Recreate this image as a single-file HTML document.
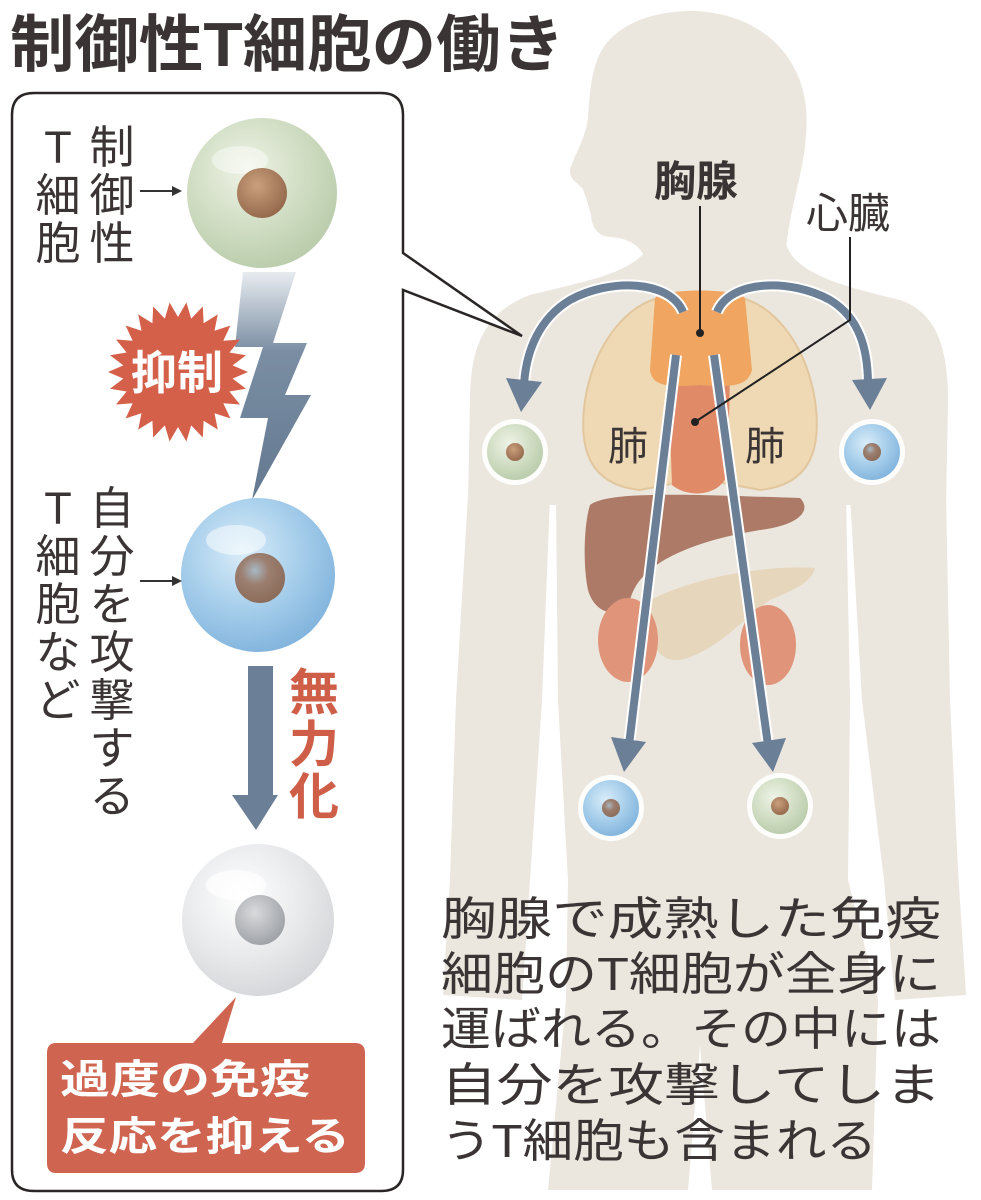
<!DOCTYPE html>
<html><head><meta charset="utf-8"><style>
html,body{margin:0;padding:0;background:#fff;}
svg{display:block;}
text{font-family:"Liberation Sans","Noto Sans CJK JP",sans-serif;fill:#3a3434;}
</style></head><body>
<svg width="981" height="1200" viewBox="0 0 981 1200" xmlns="http://www.w3.org/2000/svg">
<defs>
<radialGradient id="gG" cx="40%" cy="35%" r="70%"><stop offset="0" stop-color="#eef3e6"/><stop offset="0.5" stop-color="#d3dfc6"/><stop offset="1" stop-color="#b8cba9"/></radialGradient>
<radialGradient id="gB" cx="40%" cy="35%" r="70%"><stop offset="0" stop-color="#d9ecf8"/><stop offset="0.5" stop-color="#a9d0ec"/><stop offset="1" stop-color="#7fb2dc"/></radialGradient>
<radialGradient id="gW" cx="40%" cy="35%" r="70%"><stop offset="0" stop-color="#ffffff"/><stop offset="0.55" stop-color="#e9eaec"/><stop offset="1" stop-color="#d3d5d8"/></radialGradient>
<radialGradient id="nB" cx="40%" cy="35%" r="70%"><stop offset="0" stop-color="#c9a07c"/><stop offset="1" stop-color="#93664a"/></radialGradient>
<radialGradient id="nBl" cx="40%" cy="35%" r="70%"><stop offset="0" stop-color="#a8b8c4"/><stop offset="0.4" stop-color="#9c7f70"/><stop offset="1" stop-color="#8a6a58"/></radialGradient>
<radialGradient id="nG" cx="40%" cy="35%" r="70%"><stop offset="0" stop-color="#d8dadc"/><stop offset="1" stop-color="#9c9fa4"/></radialGradient>
<linearGradient id="bolt" x1="0" y1="0" x2="0" y2="1"><stop offset="0" stop-color="#e8ecf0"/><stop offset="0.35" stop-color="#7a8da3"/><stop offset="1" stop-color="#637990"/></linearGradient>
</defs>

<g fill="#ebe6de">
<path d="M645,258 C640,245 628,238 610,237 C598,236 592,228 591,215 C588,205 586,195 582,188 C576,182 569,178 570,170 C573,158 585,140 588,118 C590,92 591,68 603,48 C622,20 660,11 692,11 C752,12 800,48 806,108 C810,160 790,200 786,250 Z"/>
<path d="M648,248 L786,244 C795,275 850,288 900,300 C935,312 948,345 948,400 L946,505 L468,505 L470,400 C470,340 490,310 530,295 C580,282 630,275 648,248 Z"/>
<path d="M468,495 L550,495 L542,700 L530,880 L522,1000 L443,995 L450,880 L456,700 Z"/>
<path d="M850,495 L946,495 L950,700 L958,870 L966,995 L895,1000 L884,880 L862,700 Z"/>
<path d="M556,495 L846,495 L850,700 L848,880 L878,1000 L872,1190 L712,1190 L700,1045 L688,1190 L548,1190 L566,1000 L568,880 L558,700 Z"/>
</g>

<path d="M660,298 C630,303 595,340 585,400 C578,450 590,485 640,490 L690,480 L690,320 Z" fill="#efd8b4" stroke="#e2c79e" stroke-width="2"/>
<path d="M740,298 C770,303 805,340 815,400 C822,450 810,485 760,490 L708,480 L708,320 Z" fill="#efd8b4" stroke="#e2c79e" stroke-width="2"/>
<path d="M668,370 L730,370 L728,470 C725,495 690,500 672,485 Z" fill="#e08a68"/>
<path d="M655,298 C665,288 735,288 745,298 L752,370 C748,385 735,388 700,385 C665,388 652,385 650,370 Z" fill="#f0a660"/>
<path d="M590,505 C610,490 700,495 800,498 C812,510 800,525 760,530 C700,540 640,560 630,600 C620,620 595,615 588,590 C582,560 585,520 590,505 Z" fill="#ac7a66"/>
<path d="M650,600 C700,575 770,565 815,568 C812,580 800,588 770,600 C740,620 720,650 680,660 C655,662 648,640 650,600 Z" fill="#e6d6bc"/>
<ellipse cx="628" cy="640" rx="30" ry="42" fill="#e0957a"/>
<ellipse cx="768" cy="645" rx="28" ry="40" fill="#e0957a"/>
<text x="628" y="460" font-size="40" text-anchor="middle">肺</text>
<text x="765" y="460" font-size="40" text-anchor="middle">肺</text>

<g fill="none">
<path d="M683,312 C670,280 610,278 570,300 C540,318 526,350 524,385" stroke="#fff" stroke-width="12"/>
<path d="M683,312 C670,280 610,278 570,300 C540,318 526,350 524,385" stroke="#6b7f96" stroke-width="8"/>
<path d="M717,312 C730,280 790,278 830,300 C860,318 868,350 868,385" stroke="#fff" stroke-width="12"/>
<path d="M717,312 C730,280 790,278 830,300 C860,318 868,350 868,385" stroke="#6b7f96" stroke-width="8"/>
<path d="M676,355 L629,745" stroke="#fff" stroke-width="12"/>
<path d="M676,355 L629,745" stroke="#6b7f96" stroke-width="8"/>
<path d="M714,355 L768,745" stroke="#fff" stroke-width="12"/>
<path d="M714,355 L768,745" stroke="#6b7f96" stroke-width="8"/>
</g>
<g fill="#6b7f96">
<path d="M506,378 L542,382 L521,412 Z"/>
<path d="M852,380 L887,378 L870,410 Z"/>
<path d="M611,737 L646,742 L624,772 Z"/>
<path d="M752,743 L786,738 L773,772 Z"/>
</g>

<line x1="700" y1="206" x2="700" y2="333" stroke="#222" stroke-width="2"/>
<circle cx="700" cy="333" r="4" fill="#222"/>
<polyline points="850,237 850,320 695,422" fill="none" stroke="#222" stroke-width="2"/>
<circle cx="695" cy="422" r="4" fill="#222"/>
<text x="696" y="196" font-size="42" font-weight="bold" text-anchor="middle">胸腺</text>
<text x="848" y="228" font-size="42" text-anchor="middle">心臓</text>

<g>
<circle cx="515" cy="452" r="33" fill="#fff" opacity="0.9"/><circle cx="515" cy="452" r="28" fill="url(#gG)"/><circle cx="515" cy="452" r="9" fill="url(#nB)"/>
<circle cx="872" cy="452" r="33" fill="#fff" opacity="0.9"/><circle cx="872" cy="452" r="28" fill="url(#gB)"/><circle cx="872" cy="452" r="9" fill="url(#nBl)"/>
<circle cx="611" cy="808" r="33" fill="#fff" opacity="0.9"/><circle cx="611" cy="808" r="28" fill="url(#gB)"/><circle cx="611" cy="808" r="9" fill="url(#nBl)"/>
<circle cx="780" cy="806" r="33" fill="#fff" opacity="0.9"/><circle cx="780" cy="806" r="28" fill="url(#gG)"/><circle cx="780" cy="806" r="9" fill="url(#nB)"/>
</g>

<g font-size="46">
<text x="441" y="935" textLength="500" lengthAdjust="spacingAndGlyphs">胸腺で成熟した免疫</text>
<text x="441" y="990" textLength="500" lengthAdjust="spacingAndGlyphs">細胞のT細胞が全身に</text>
<text x="441" y="1045" textLength="500" lengthAdjust="spacingAndGlyphs">運ばれる。その中には</text>
<text x="441" y="1101" textLength="500" lengthAdjust="spacingAndGlyphs">自分を攻撃してしま</text>
<text x="441" y="1157" textLength="436" lengthAdjust="spacingAndGlyphs">うT細胞も含まれる</text>
</g>

<text x="10" y="66" font-size="62" font-weight="bold" textLength="555" lengthAdjust="spacingAndGlyphs" fill="#3d3535">制御性T細胞の働き</text>

<path d="M34,93 L381,93 Q403,93 403,115 L403,253 L522,336 L403,290 L403,1170 Q403,1191 381,1191 L34,1191 Q12,1191 12,1170 L12,115 Q12,93 34,93 Z" fill="#fff" stroke="#2a2626" stroke-width="2.5"/>

<circle cx="262" cy="193" r="75" fill="url(#gG)"/>
<ellipse cx="240" cy="160" rx="28" ry="14" fill="#fff" opacity="0.45"/>
<circle cx="262" cy="193" r="25" fill="url(#nB)"/>
<polygon points="243,272 296,272 273,343 307,343 285,395 311,395 252,500 268,418 240,418 263,347 235,347" fill="url(#bolt)"/>
<circle cx="258" cy="575" r="77" fill="url(#gB)"/>
<ellipse cx="236" cy="540" rx="30" ry="15" fill="#fff" opacity="0.5"/>
<circle cx="260" cy="578" r="25" fill="url(#nBl)"/>
<circle cx="258" cy="920" r="76" fill="url(#gW)"/>
<ellipse cx="236" cy="885" rx="30" ry="15" fill="#fff" opacity="0.7"/>
<circle cx="260" cy="920" r="25" fill="url(#nG)"/>

<polygon fill="#d4604a" points="248,372 232.6,378.6 246,388.8 229.4,391.5 240,404.5 223.3,403.2 230.4,418.4 214.5,413.2 217.8,429.6 203.6,420.7 202.8,437.5 191.2,425.4 186.4,441.5 178,427 169.6,441.5 164.8,425.4 153.2,437.5 152.4,420.7 138.2,429.6 141.5,413.2 125.6,418.4 132.7,403.2 116,404.5 126.6,391.5 110,388.8 123.4,378.6 108,372 123.4,365.4 110,355.2 126.6,352.5 116,339.5 132.7,340.8 125.6,325.6 141.5,330.8 138.2,314.4 152.4,323.3 153.2,306.5 164.8,318.6 169.6,302.5 178,317 186.4,302.5 191.2,318.6 202.8,306.5 203.6,323.3 217.8,314.4 214.5,330.8 230.4,325.6 223.3,340.8 240,339.5 229.4,352.5 246,355.2 232.6,365.4"/>
<text x="177" y="389" font-size="46" font-weight="bold" text-anchor="middle" style="fill:#fff">抑制</text>

<rect x="248" y="666" width="25" height="130" fill="#6b7f96"/>
<polygon points="232,795 278,795 256,830" fill="#6b7f96"/>
<g font-size="50" font-weight="bold" text-anchor="middle">
<text x="314" y="710" style="fill:#cf5e48">無</text>
<text x="314" y="762" style="fill:#cf5e48">力</text>
<text x="314" y="814" style="fill:#cf5e48">化</text>
</g>

<g font-size="45" text-anchor="middle">
<text x="58" y="163">T</text><text x="58" y="211">細</text><text x="58" y="259">胞</text>
<text x="112" y="163">制</text><text x="112" y="211">御</text><text x="112" y="259">性</text>
<text x="58" y="524">T</text><text x="58" y="572">細</text><text x="58" y="620">胞</text><text x="58" y="668">な</text><text x="58" y="716">ど</text>
<text x="112" y="524">自</text><text x="112" y="572">分</text><text x="112" y="620">を</text><text x="112" y="668">攻</text><text x="112" y="716">撃</text><text x="112" y="764">す</text><text x="112" y="812">る</text>
</g>
<line x1="140" y1="191" x2="174" y2="191" stroke="#333" stroke-width="2"/>
<polygon points="182,191 172,186 172,196" fill="#333"/>
<line x1="140" y1="581" x2="174" y2="581" stroke="#333" stroke-width="2"/>
<polygon points="182,581 172,576 172,586" fill="#333"/>

<path d="M56,1043 L193,1043 L236,997 L222,1043 L355,1043 Q365,1043 365,1053 L365,1163 Q365,1173 355,1173 L56,1173 Q47,1173 47,1163 L47,1053 Q47,1043 56,1043 Z" fill="#cf6450"/>
<text x="60" y="1093" font-size="40" font-weight="bold" style="fill:#fff" textLength="250" lengthAdjust="spacingAndGlyphs">過度の免疫</text>
<text x="60" y="1150" font-size="40" font-weight="bold" style="fill:#fff" textLength="290" lengthAdjust="spacingAndGlyphs">反応を抑える</text>
</svg>
</body></html>
